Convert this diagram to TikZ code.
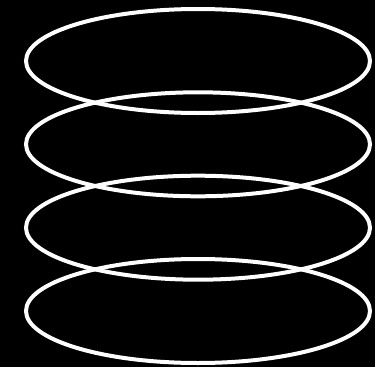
\documentclass[tikz,border=0pt]{standalone}
\begin{document}
\begin{tikzpicture}[x=1pt,y=-1pt,ring/.style={draw=white,line width=4pt}]
\fill[black] (0,0) rectangle (375,367);
\useasboundingbox (0,0) rectangle (375,367);
\foreach \cy/\nm in {61/r1,144.3/r2,227.7/r3,311/r4}{
  \draw[ring] (198,\cy) ellipse [x radius=172, y radius=52];
}
\end{tikzpicture}
\end{document}
